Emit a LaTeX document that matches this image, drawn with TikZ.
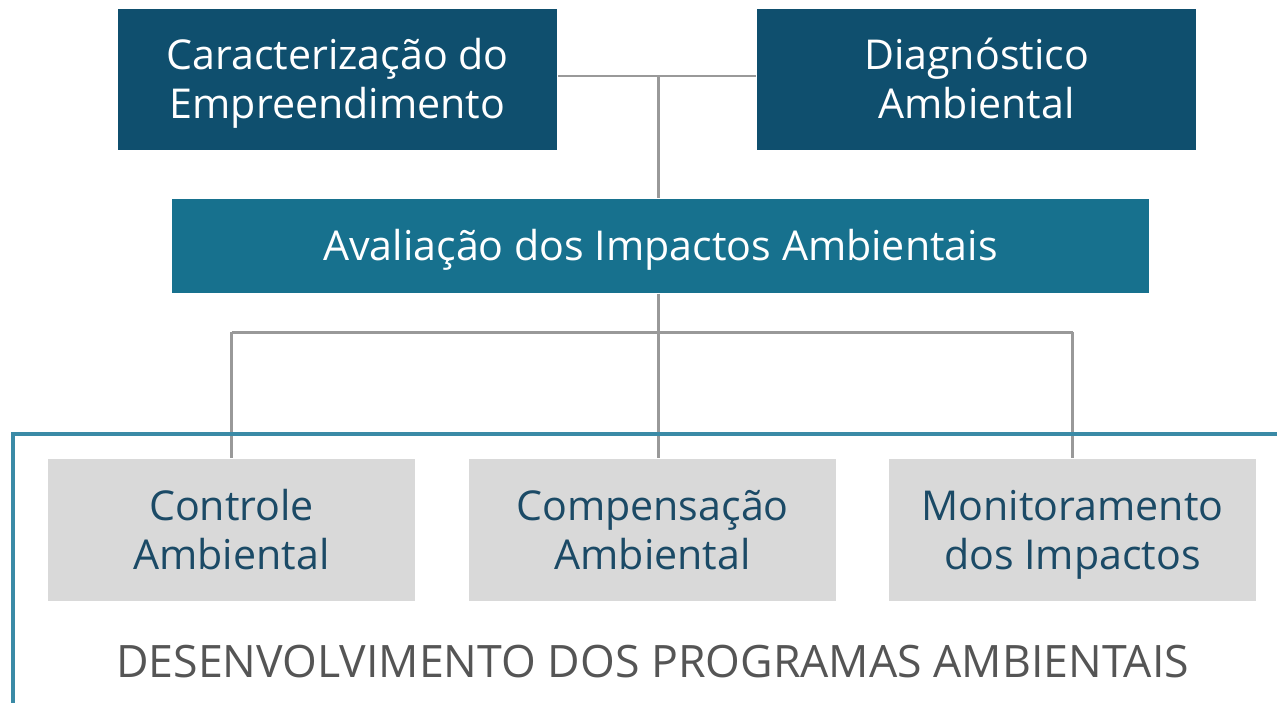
\documentclass[tikz,border=0pt]{standalone}
\usepackage{fontspec}
\setmainfont{Open Sans}
\definecolor{darkbox}{HTML}{0F4F6E}
\definecolor{midbox}{HTML}{17718E}
\definecolor{graybox}{HTML}{D9D9D9}
\definecolor{graytext}{HTML}{555555}
\definecolor{bluetext}{HTML}{1B4A66}
\definecolor{conn}{HTML}{999999}
\definecolor{frame}{HTML}{3A8AA6}
\newcommand\topstrut{\rule{0pt}{12.6pt}}
\newcommand\botstrut{\rule[-4.2pt]{0pt}{4.2pt}}
\begin{document}
\begin{tikzpicture}[x=0.01cm,y=-0.01cm,
  boxfont/.style={font=\fontsize{11.7pt}{14pt}\selectfont},
  topbox/.style={rectangle,fill=darkbox,text=white,minimum width=4.39cm,minimum height=1.41cm,inner sep=0pt,align=center,boxfont},
  midstyle/.style={rectangle,fill=midbox,text=white,minimum width=9.77cm,minimum height=0.94cm,inner sep=0pt,align=center,boxfont},
  progbox/.style={rectangle,fill=graybox,text=bluetext,minimum width=3.67cm,minimum height=1.42cm,inner sep=0pt,align=center,boxfont},
  connector/.style={draw=conn,line width=0.85pt},
  framestyle/.style={draw=frame,line width=0.9pt}]
\useasboundingbox (0,0) rectangle (1277,703);
\node[topbox] (car) at (337.5,79.5) {\topstrut Caracterização do\\Empreendimento\botstrut};
\node[topbox] (diag) at (976.5,79.5) {\topstrut Diagnóstico\\Ambiental\botstrut};
\node[midstyle] (aval) at (660.5,246) {\topstrut\botstrut Avaliação dos Impactos Ambientais};
\node[progbox] (ctrl) at (231.5,530) {\topstrut Controle\\Ambiental\botstrut};
\node[progbox] (comp) at (652.5,530) {\topstrut Compensação\\Ambiental\botstrut};
\node[progbox] (mon) at (1072.5,530) {\topstrut Monitoramento\\dos Impactos\botstrut};
\node[text=graytext,font=\fontsize{12.7pt}{15pt}\selectfont,inner sep=0pt] (title) at (652.5,662) {DESENVOLVIMENTO DOS PROGRAMAS AMBIENTAIS};
\coordinate (j1) at (658,76);
\coordinate (j2) at (658,332);
\coordinate (fr) at (1277,434);
\coordinate (fc) at (13,434);
\coordinate (fb) at (13,703);
\draw[connector] (car.east |- j1) -- (diag.west |- j1);
\draw[connector] (j1) -- (aval.north -| j1);
\draw[connector] (aval.south -| j2) -- (comp.north -| j2);
\draw[connector] (ctrl.north |- j2) -- (mon.north |- j2);
\draw[connector] (ctrl.north |- j2) -- (ctrl.north);
\draw[connector] (mon.north |- j2) -- (mon.north);
\draw[framestyle] (fr) -- (fc) -- (fb);
\end{tikzpicture}
\end{document}
